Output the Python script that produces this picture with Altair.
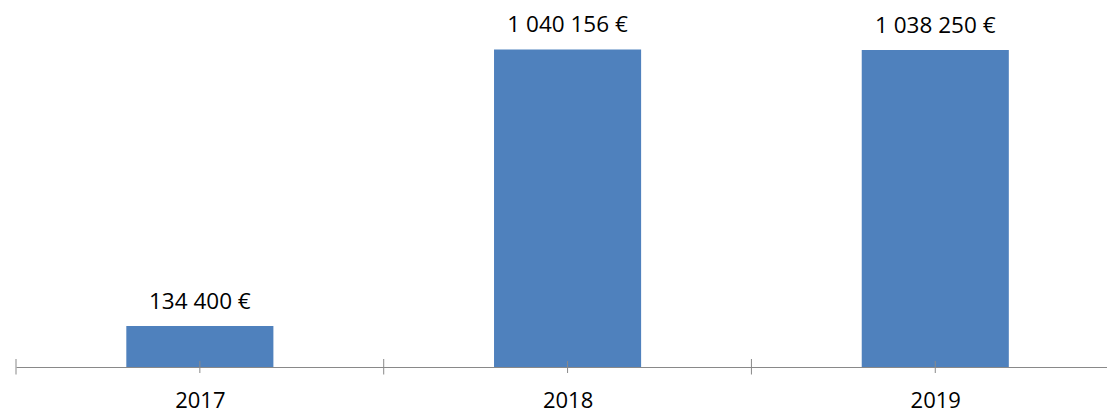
import altair as alt
import pandas as pd

years = ["2017", "2018", "2019"]
amounts = [134400, 1040156, 1038250]

df = pd.DataFrame({"year": years, "amount": amounts})
df["idx"] = list(range(len(years)))
df["label"] = [f"{v:,}".replace(",", " ") + " €" for v in amounts]

FONT = "Open Sans"
GRAY = "#898989"

# plot area shows slightly less than three full category bands (last edge is off-page)
x_scale = alt.Scale(domain=[-0.5, 2.467], nice=False, zero=False)
y_scale = alt.Scale(domain=[0, 1176000], nice=False, zero=True)

year_expr = "[" + ",".join(f"'{y}'" for y in years) + "][datum.value]"

xaxis = alt.Axis(title=None, values=list(range(len(years))), labelExpr=year_expr,
                 labelAngle=0, ticks=False, grid=False, domainColor=GRAY,
                 domainWidth=1, labelPadding=23.5, labelFontSize=22, labelFont=FONT,
                 labelColor="#000000", labelFontWeight="normal", labelFlush=False,
                 labelOverlap=False)

base = alt.Chart(df).transform_calculate(
    left="datum.idx - 0.2", right="datum.idx + 0.2", edge="datum.idx - 0.5"
)

bars = base.mark_bar(color="#4F81BD").encode(
    x=alt.X("left:Q", scale=x_scale, axis=xaxis),
    x2="right:Q",
    y=alt.Y("amount:Q", scale=y_scale, axis=None),
    y2=alt.datum(0),
)

text = base.mark_text(font=FONT, fontSize=22.5, color="#000000",
                      baseline="alphabetic", dy=-17).encode(
    x=alt.X("idx:Q", scale=x_scale),
    y=alt.Y("amount:Q", scale=y_scale),
    text="label:N",
)

edge_ticks = base.mark_rule(color=GRAY, strokeWidth=1).encode(
    x=alt.X("edge:Q", scale=x_scale),
    y=alt.value(351),
    y2=alt.value(366.5),
)

center_ticks = base.mark_rule(color=GRAY, strokeWidth=1).encode(
    x=alt.X("idx:Q", scale=x_scale),
    y=alt.value(353),
    y2=alt.value(365),
)

chart = alt.layer(bars, edge_ticks, center_ticks, text).properties(
    width=1091,
    height=359,
    autosize=alt.AutoSizeParams(type="none"),
    padding={"left": 8, "top": 0, "right": 0, "bottom": 47},
    background="white",
).configure_view(strokeWidth=0)

chart.save("out.html", embed_options={"renderer": "svg", "actions": False})
